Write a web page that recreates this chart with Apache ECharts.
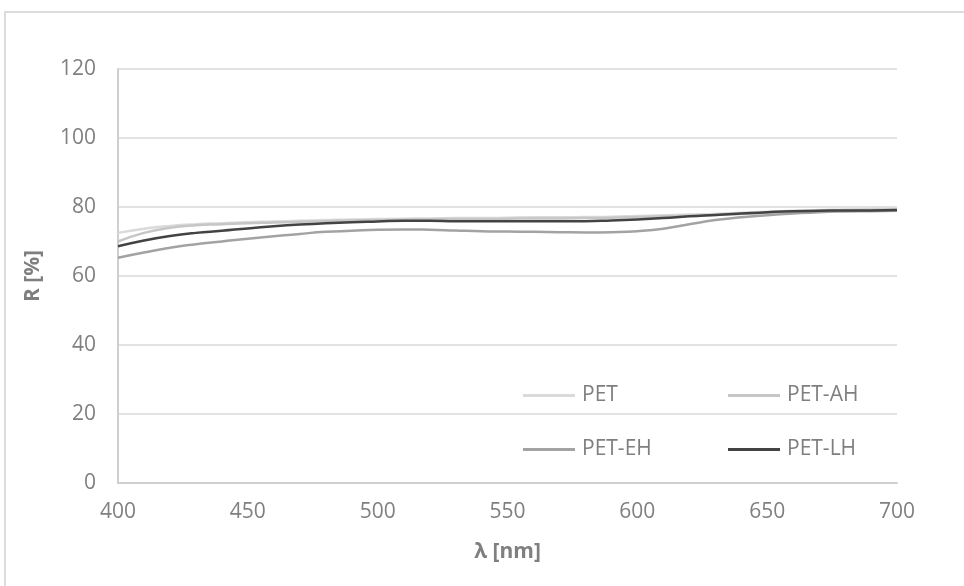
<!DOCTYPE html>
<html>
<head>
<meta charset="utf-8">
<script src="https://cdn.jsdelivr.net/npm/echarts@6/dist/echarts.min.js"></script>
<style>
html,body{margin:0;padding:0;background:#fff;}
#c{width:964px;height:586px;}
</style>
</head>
<body>
<div id="c"></div>
<script>
const wavelengths = [400,410,420,430,440,450,460,470,480,490,500,510,520,530,540,550,560,570,580,590,600,610,620,630,640,650,660,670,680,690,700];
const PET    = [72.5,73.7,74.5,75.0,75.3,75.6,75.8,76.0,76.2,76.4,76.5,76.6,76.7,76.8,76.8,76.9,77.0,77.0,77.1,77.2,77.4,77.6,77.8,78.0,78.3,78.6,78.9,79.1,79.3,79.4,79.5];
const PET_AH = [70.0,72.5,74.0,74.7,75.0,75.3,75.5,75.7,75.9,76.1,76.2,76.3,76.4,76.5,76.5,76.6,76.7,76.7,76.8,76.9,77.1,77.3,77.5,77.7,78.0,78.3,78.6,78.8,79.0,79.1,79.2];
const PET_EH = [65.3,66.8,68.2,69.2,70.0,70.8,71.5,72.2,72.8,73.1,73.4,73.5,73.4,73.2,73.0,72.9,72.8,72.7,72.6,72.7,73.0,73.7,75.0,76.2,77.0,77.6,78.1,78.5,78.7,78.8,78.9];
const PET_LH = [68.6,70.3,71.6,72.5,73.1,73.8,74.4,74.9,75.3,75.6,75.8,76.0,76.0,75.9,75.9,75.9,75.9,75.9,75.9,76.1,76.4,76.8,77.3,77.7,78.1,78.5,78.8,78.9,79.0,79.0,79.1];
const seriesNames = ['PET','PET-AH','PET-EH','PET-LH'];
const seriesValues = [PET, PET_AH, PET_EH, PET_LH];
const colors = ['#dadada','#c6c6c6','#a3a3a3','#434343'];

const FONT = '"Open Sans", sans-serif';
const chart = echarts.init(document.getElementById('c'), null, {renderer:'canvas'});

const legendPos = [
  {left:523, top:385},
  {left:728, top:385},
  {left:523, top:439},
  {left:728, top:439}
];

const option = {
  backgroundColor:'#ffffff',
  animation:false,
  graphic:[{
    type:'rect', shape:{x:5, y:12, width:1100, height:1100},
    style:{fill:'none', stroke:'#dcdcdc', lineWidth:2}, silent:true
  }],
  grid:{left:118, right:67, top:69, bottom:103, containLabel:false},
  legend: seriesNames.map((n,i)=>({
    data:[n], left:legendPos[i].left, top:legendPos[i].top,
    icon:'rect', itemWidth:52, itemHeight:3, itemGap:0,
    padding:0,
    textStyle:{fontFamily:FONT, fontSize:21, color:'#7f7f7f', padding:[0,0,0,2]},
    selectedMode:false
  })),
  xAxis:{
    type:'value', min:400, max:700, interval:50,
    name:'λ [nm]', nameLocation:'middle', nameGap:59,
    nameTextStyle:{fontFamily:FONT, fontSize:21, fontWeight:'bold', color:'#7f7f7f'},
    axisLine:{show:true, lineStyle:{color:'#cfcfcf', width:2}},
    axisTick:{show:false},
    splitLine:{show:false},
    axisLabel:{fontFamily:FONT, fontSize:21, color:'#808080', margin:19}
  },
  yAxis:{
    type:'value', min:0, max:120, interval:20,
    name:'R [%]', nameLocation:'middle', nameGap:74,
    nameTextStyle:{fontFamily:FONT, fontSize:21, fontWeight:'bold', color:'#7f7f7f'},
    axisLine:{show:true, lineStyle:{color:'#cfcfcf', width:2}},
    axisTick:{show:false},
    splitLine:{show:true, lineStyle:{color:'#e2e2e2', width:2}},
    axisLabel:{fontFamily:FONT, fontSize:21, color:'#808080', margin:22}
  },
  series: seriesNames.map((n,i)=>({
    name:n, type:'line', smooth:true, symbol:'none',
    data: wavelengths.map((w,j)=>[w, seriesValues[i][j]]),
    lineStyle:{color:colors[i], width:2.5},
    itemStyle:{color:colors[i]},
    z: 2+i
  }))
};
chart.setOption(option);
</script>
</body>
</html>
